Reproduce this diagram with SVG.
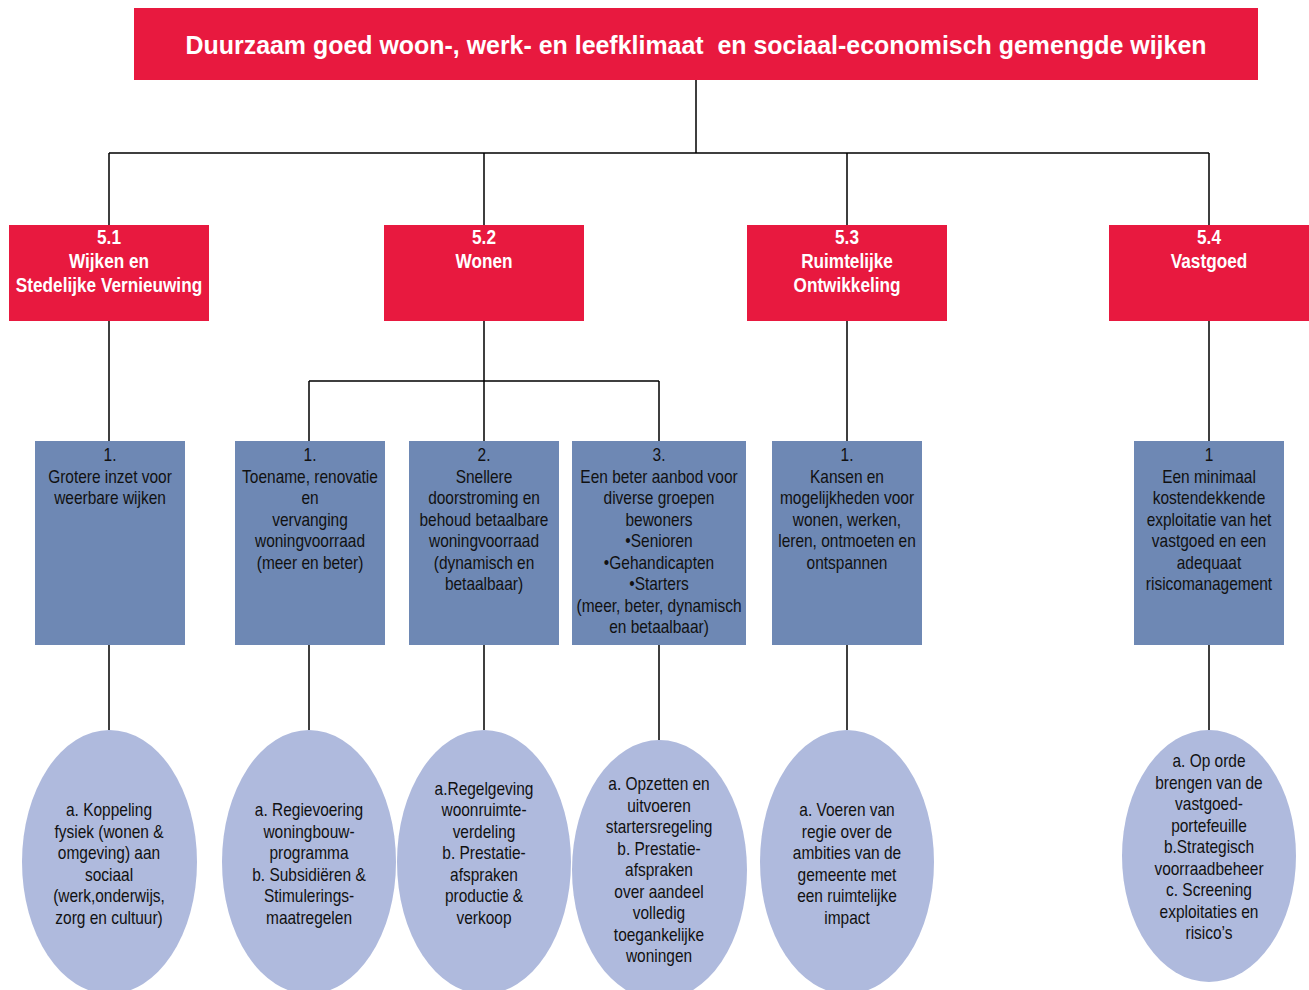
<svg xmlns="http://www.w3.org/2000/svg" width="1309" height="990" viewBox="0 0 1309 990">
<style>
.red{fill:#E8193F}
.blue{fill:#6E88B4}
.ell{fill:#AFBADD}
.title{font-family:"Liberation Sans",Arial,sans-serif;font-weight:bold;font-size:26px;fill:#fff;text-anchor:middle;white-space:pre}
.rt{font-family:"Liberation Sans",Arial,sans-serif;font-weight:bold;font-size:20px;fill:#fff;text-anchor:middle}
.bt{font-family:"Liberation Sans",Arial,sans-serif;font-size:18px;fill:#111;text-anchor:middle}
.con{stroke:#000;stroke-width:1.5;fill:none}
</style>
<g id="connectors">
<path class="con" d="M696 80V153M109 153H1209M109 153V225M484 153V225M847 153V225M1209 153V225"/>
<path class="con" d="M109 321V441M484 321V381M309 381H659M309 381V441M484 381V441M659 381V441M847 321V441M1209 321V441"/>
<path class="con" d="M109 645V730M309 645V730M484 645V730M659 645V740M847 645V730M1209 645V730"/>
</g>
<g id="root">
<rect class="red" x="134" y="8" width="1124" height="72"/>
<text class="title" x="696" y="54" textLength="1021" lengthAdjust="spacingAndGlyphs" xml:space="preserve">Duurzaam goed woon-, werk- en leefklimaat  en sociaal-economisch gemengde wijken</text>
</g>
<g id="n51">
<rect class="red" x="9" y="225" width="200" height="96"/>
<g transform="translate(109 0) scale(0.86 1)">
<text class="rt" x="0" y="244">5.1</text>
<text class="rt" x="0" y="268">Wijken en</text>
<text class="rt" x="0" y="292">Stedelijke Vernieuwing</text>
</g>
</g>
<g id="n52">
<rect class="red" x="384" y="225" width="200" height="96"/>
<g transform="translate(484 0) scale(0.86 1)">
<text class="rt" x="0" y="244">5.2</text>
<text class="rt" x="0" y="268">Wonen</text>
</g>
</g>
<g id="n53">
<rect class="red" x="747" y="225" width="200" height="96"/>
<g transform="translate(847 0) scale(0.86 1)">
<text class="rt" x="0" y="244">5.3</text>
<text class="rt" x="0" y="268">Ruimtelijke</text>
<text class="rt" x="0" y="292">Ontwikkeling</text>
</g>
</g>
<g id="n54">
<rect class="red" x="1109" y="225" width="200" height="96"/>
<g transform="translate(1209 0) scale(0.86 1)">
<text class="rt" x="0" y="244">5.4</text>
<text class="rt" x="0" y="268">Vastgoed</text>
</g>
</g>
<g id="b511">
<rect class="blue" x="35" y="441" width="150" height="204"/>
<g transform="translate(110 0) scale(0.86 1)">
<text class="bt" x="0" y="461.5">1.</text>
<text class="bt" x="0" y="483">Grotere inzet voor</text>
<text class="bt" x="0" y="504.5">weerbare wijken</text>
</g>
</g>
<g id="b521">
<rect class="blue" x="235" y="441" width="150" height="204"/>
<g transform="translate(310 0) scale(0.86 1)">
<text class="bt" x="0" y="461.5">1.</text>
<text class="bt" x="0" y="483">Toename, renovatie</text>
<text class="bt" x="0" y="504.5">en</text>
<text class="bt" x="0" y="526">vervanging</text>
<text class="bt" x="0" y="547.5">woningvoorraad</text>
<text class="bt" x="0" y="569">(meer en beter)</text>
</g>
</g>
<g id="b522">
<rect class="blue" x="409" y="441" width="150" height="204"/>
<g transform="translate(484 0) scale(0.86 1)">
<text class="bt" x="0" y="461.5">2.</text>
<text class="bt" x="0" y="483">Snellere</text>
<text class="bt" x="0" y="504.5">doorstroming en</text>
<text class="bt" x="0" y="526">behoud betaalbare</text>
<text class="bt" x="0" y="547.5">woningvoorraad</text>
<text class="bt" x="0" y="569">(dynamisch en</text>
<text class="bt" x="0" y="590.5">betaalbaar)</text>
</g>
</g>
<g id="b523">
<rect class="blue" x="572" y="441" width="174" height="204"/>
<g transform="translate(659 0) scale(0.86 1)">
<text class="bt" x="0" y="461.5">3.</text>
<text class="bt" x="0" y="483">Een beter aanbod voor</text>
<text class="bt" x="0" y="504.5">diverse groepen</text>
<text class="bt" x="0" y="526">bewoners</text>
<text class="bt" x="0" y="547.5">•Senioren</text>
<text class="bt" x="0" y="569">•Gehandicapten</text>
<text class="bt" x="0" y="590.5">•Starters</text>
<text class="bt" x="0" y="612">(meer, beter, dynamisch</text>
<text class="bt" x="0" y="633.5">en betaalbaar)</text>
</g>
</g>
<g id="b531">
<rect class="blue" x="772" y="441" width="150" height="204"/>
<g transform="translate(847 0) scale(0.86 1)">
<text class="bt" x="0" y="461.5">1.</text>
<text class="bt" x="0" y="483">Kansen en</text>
<text class="bt" x="0" y="504.5">mogelijkheden voor</text>
<text class="bt" x="0" y="526">wonen, werken,</text>
<text class="bt" x="0" y="547.5">leren, ontmoeten en</text>
<text class="bt" x="0" y="569">ontspannen</text>
</g>
</g>
<g id="b541">
<rect class="blue" x="1134" y="441" width="150" height="204"/>
<g transform="translate(1209 0) scale(0.86 1)">
<text class="bt" x="0" y="461.5">1</text>
<text class="bt" x="0" y="483">Een minimaal</text>
<text class="bt" x="0" y="504.5">kostendekkende</text>
<text class="bt" x="0" y="526">exploitatie van het</text>
<text class="bt" x="0" y="547.5">vastgoed en een</text>
<text class="bt" x="0" y="569">adequaat</text>
<text class="bt" x="0" y="590.5">risicomanagement</text>
</g>
</g>
<g id="e511">
<ellipse class="ell" cx="109.5" cy="862" rx="87.5" ry="132"/>
<g transform="translate(109 0) scale(0.86 1)">
<text class="bt" x="0" y="816.5">a. Koppeling</text>
<text class="bt" x="0" y="838">fysiek (wonen &amp;</text>
<text class="bt" x="0" y="859.5">omgeving) aan</text>
<text class="bt" x="0" y="881">sociaal</text>
<text class="bt" x="0" y="902.5">(werk,onderwijs,</text>
<text class="bt" x="0" y="924">zorg en cultuur)</text>
</g>
</g>
<g id="e521">
<ellipse class="ell" cx="309" cy="862" rx="87" ry="132"/>
<g transform="translate(309 0) scale(0.86 1)">
<text class="bt" x="0" y="816.5">a. Regievoering</text>
<text class="bt" x="0" y="838">woningbouw-</text>
<text class="bt" x="0" y="859.5">programma</text>
<text class="bt" x="0" y="881">b. Subsidiëren &amp;</text>
<text class="bt" x="0" y="902.5">Stimulerings-</text>
<text class="bt" x="0" y="924">maatregelen</text>
</g>
</g>
<g id="e522">
<ellipse class="ell" cx="484" cy="862" rx="87" ry="132"/>
<g transform="translate(484 0) scale(0.86 1)">
<text class="bt" x="0" y="795">a.Regelgeving</text>
<text class="bt" x="0" y="816.5">woonruimte-</text>
<text class="bt" x="0" y="838">verdeling</text>
<text class="bt" x="0" y="859.5">b. Prestatie-</text>
<text class="bt" x="0" y="881">afspraken</text>
<text class="bt" x="0" y="902.5">productie &amp;</text>
<text class="bt" x="0" y="924">verkoop</text>
</g>
</g>
<g id="e523">
<ellipse class="ell" cx="659.5" cy="870" rx="87.5" ry="130"/>
<g transform="translate(659 0) scale(0.86 1)">
<text class="bt" x="0" y="790.5">a. Opzetten en</text>
<text class="bt" x="0" y="812">uitvoeren</text>
<text class="bt" x="0" y="833.5">startersregeling</text>
<text class="bt" x="0" y="855">b. Prestatie-</text>
<text class="bt" x="0" y="876.5">afspraken</text>
<text class="bt" x="0" y="898">over aandeel</text>
<text class="bt" x="0" y="919.5">volledig</text>
<text class="bt" x="0" y="941">toegankelijke</text>
<text class="bt" x="0" y="962.5">woningen</text>
</g>
</g>
<g id="e531">
<ellipse class="ell" cx="847" cy="862" rx="87" ry="132"/>
<g transform="translate(847 0) scale(0.86 1)">
<text class="bt" x="0" y="816.5">a. Voeren van</text>
<text class="bt" x="0" y="838">regie over de</text>
<text class="bt" x="0" y="859.5">ambities van de</text>
<text class="bt" x="0" y="881">gemeente met</text>
<text class="bt" x="0" y="902.5">een ruimtelijke</text>
<text class="bt" x="0" y="924">impact</text>
</g>
</g>
<g id="e541">
<ellipse class="ell" cx="1209" cy="856" rx="87" ry="126"/>
<g transform="translate(1209 0) scale(0.86 1)">
<text class="bt" x="0" y="767.5">a. Op orde</text>
<text class="bt" x="0" y="789">brengen van de</text>
<text class="bt" x="0" y="810.5">vastgoed-</text>
<text class="bt" x="0" y="832">portefeuille</text>
<text class="bt" x="0" y="853.5">b.Strategisch</text>
<text class="bt" x="0" y="875">voorraadbeheer</text>
<text class="bt" x="0" y="896.5">c. Screening</text>
<text class="bt" x="0" y="918">exploitaties en</text>
<text class="bt" x="0" y="939.5">risico’s</text>
</g>
</g>
</svg>
